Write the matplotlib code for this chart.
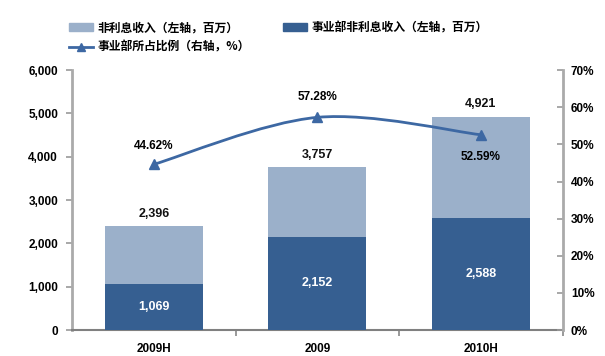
import matplotlib.pyplot as plt
from matplotlib.path import Path
from matplotlib.patches import PathPatch, Patch
from matplotlib.lines import Line2D
from matplotlib.ticker import FuncFormatter
import numpy as np

plt.rcParams['font.family'] = ['Liberation Sans', 'Noto Sans CJK SC', 'DejaVu Sans']

periods = ['2009H', '2009', '2010H']
total_income = [2396, 3757, 4921]
unit_income = [1069, 2152, 2588]
unit_share = [44.62, 57.28, 52.59]

light = '#9bb0ca'
dark = '#365f91'
line_c = '#3d68a3'

fig = plt.figure(figsize=(6.05, 3.56), dpi=100)
ax = fig.add_axes([0.119, 0.073, 0.811, 0.730])
ax2 = ax.twinx()

x = np.arange(len(periods))
ax.bar(x, total_income, width=0.6, color=light, zorder=2)
ax.bar(x, unit_income, width=0.6, color=dark, zorder=3)

for xi, t, u in zip(x, total_income, unit_income):
    ax.text(xi, t + 150, f'{t:,}', ha='center', va='bottom', fontsize=9, fontweight='bold', color='#111111')
    ax.text(xi, u / 2, f'{u:,}', ha='center', va='center', fontsize=9, fontweight='bold', color='white', zorder=4)

ax.set_xlim(-0.5, 2.5)
ax.set_ylim(0, 6000)
ax.set_yticks(range(0, 6001, 1000))
ax.yaxis.set_major_formatter(FuncFormatter(lambda v, _: f'{int(v):,}'))
ax.set_xticks(x)
ax.set_xticklabels(periods, fontsize=8.5, fontweight='bold')
ax.set_xticks([0.5, 1.5, 2.5], minor=True)
ax.tick_params(axis='x', which='major', length=0, pad=9)
ax.tick_params(axis='x', which='minor', length=4, color='#888888', width=1.2)
ax.tick_params(axis='y', length=4, color='#999999', width=1.2, labelsize=8.5, pad=6)
for lab in ax.get_yticklabels():
    lab.set_fontweight('bold')

ax.spines['top'].set_visible(False)
ax.spines['right'].set_visible(False)
ax.spines['left'].set_color('#aaaaaa')
ax.spines['left'].set_linewidth(2)
ax.spines['bottom'].set_color('#808080')
ax.spines['bottom'].set_linewidth(1.5)

# smoothed share line drawn as cubic bezier segments
pts = np.column_stack([x, unit_share]).astype(float)
verts = [tuple(pts[0])]
codes = [Path.MOVETO]
for i in range(len(pts) - 1):
    p0 = pts[i - 1] if i > 0 else pts[i]
    p1, p2 = pts[i], pts[i + 1]
    p3 = pts[i + 2] if i + 2 < len(pts) else pts[i + 1]
    c1 = p1 + (p2 - p0) / 6
    c2 = p2 - (p3 - p1) / 6
    verts += [tuple(c1), tuple(c2), tuple(p2)]
    codes += [Path.CURVE4] * 3
ax2.add_patch(PathPatch(Path(verts, codes), fill=False, edgecolor=line_c, linewidth=2, zorder=5))
ax2.plot(x, unit_share, linestyle='none', marker='^', markersize=7, color=line_c, zorder=6)

offsets = [9, 10, -12]
for xi, s, off in zip(x, unit_share, offsets):
    ax2.annotate(f'{s:.2f}%', (xi, s), xytext=(0, off), textcoords='offset points',
                 ha='center', va='bottom' if off > 0 else 'top', fontsize=8.5, fontweight='bold')

ax2.set_ylim(0, 70)
ax2.set_yticks(range(0, 71, 10))
ax2.yaxis.set_major_formatter(FuncFormatter(lambda v, _: f'{int(v)}%'))
ax2.tick_params(axis='y', direction='in', length=4, color='#999999', width=1.2, labelsize=8.5, pad=6)
for lab in ax2.get_yticklabels():
    lab.set_fontweight('bold')
for sp in ['top', 'left', 'bottom']:
    ax2.spines[sp].set_visible(False)
ax2.spines['right'].set_color('#aaaaaa')
ax2.spines['right'].set_linewidth(2)

handles = [
    Patch(color=light),
    Line2D([0], [0], color=line_c, linewidth=2, marker='^', markersize=6),
    Patch(color=dark),
]
labels = ['非利息收入（左轴，百万）', '事业部所占比例（右轴，%）', '事业部非利息收入（左轴，百万）']
fig.legend(handles, labels, loc='upper left', bbox_to_anchor=(0.097, 0.97), ncol=2, frameon=False,
           prop={'family': ['Noto Sans CJK SC', 'DejaVu Sans'], 'size': 8.5, 'weight': 'bold'},
           handlelength=2.0, handletextpad=0.4, columnspacing=2.8, labelspacing=0.55)

fig.savefig('out.png', dpi=100)
